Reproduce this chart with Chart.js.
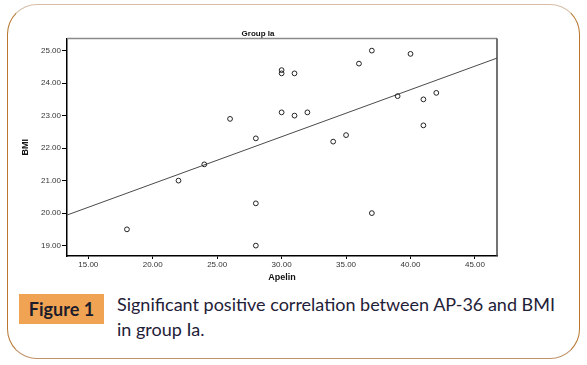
<!DOCTYPE html>
<html>
<head>
<meta charset="utf-8">
<script src="https://cdn.jsdelivr.net/npm/chart.js@4.4.0/dist/chart.umd.min.js"></script>
<style>
  body { margin: 0; background: #fff; width: 587px; height: 365px; position: relative; overflow: hidden; }
  #frame {
    position: absolute; left: 7px; top: 4px; width: 571px; height: 353px;
    border: 1.5px solid #b8762f; border-top-color: #d6bea6; border-bottom-color: #c09066;
    border-radius: 30px;
  }
  #myChart { position: absolute; left: 15px; top: 22px; }
  #fig {
    position: absolute; left: 19px; top: 294px; width: 85px; height: 30px;
    background: #f0a453; color: #1c1c2c; font: bold 18px Lato, "Open Sans", sans-serif;
    line-height: 30px; text-align: center;
  }
  #cap {
    position: absolute; left: 117px; top: 292px; white-space: nowrap;
    color: #1f2138; font: 18px Lato, "Open Sans", sans-serif; line-height: 25px;
  }
</style>
</head>
<body>
<div id="frame"></div>
<canvas id="myChart" width="487" height="270"></canvas>
<div id="fig">Figure 1</div>
<div id="cap">Significant positive correlation between AP-36 and BMI<br>in group Ia.</div>
<script>
// data
var apelin = [18, 22, 24, 26, 28, 28, 28, 30, 30, 30, 31, 31, 32, 34, 35, 36, 37, 37, 39, 40, 41, 41, 42];
var bmi = [19.5, 21.0, 21.5, 22.9, 22.3, 20.3, 19.0, 24.4, 24.3, 23.1, 24.3, 23.0, 23.1, 22.2, 22.4, 24.6, 25.0, 20.0, 23.6, 24.9, 23.5, 22.7, 23.7];
// fit line end points
var fitX = [13.35, 46.71];
var fitY = [19.94, 24.77];
// tick labels
var xTicks = [15, 20, 25, 30, 35, 40, 45];
var yTicks = [19, 20, 21, 22, 23, 24, 25];

var points = apelin.map(function (x, i) { return { x: x, y: bmi[i] }; });
var fit = fitX.map(function (x, i) { return { x: x, y: fitY[i] }; });

// top and right frame lines of the plot box
var boxLines = {
    id: 'boxLines',
    afterDraw: function (chart) {
        var a = chart.chartArea, c = chart.ctx;
        c.save();
        c.lineWidth = 1.5;
        c.strokeStyle = '#8a8a8a';
        c.beginPath(); c.moveTo(a.left, a.top); c.lineTo(a.right, a.top); c.stroke();
        c.strokeStyle = '#444';
        c.beginPath(); c.moveTo(a.right, a.top); c.lineTo(a.right, a.bottom); c.stroke();
        c.restore();
    }
};

var tickFont = { family: 'Liberation Sans, Arial', size: 8 };

var ctx = document.getElementById('myChart').getContext('2d');
var chart = new Chart(ctx, {
    type: 'scatter',
    data: {
        datasets: [
            {
                label: 'BMI',
                data: points,
                pointStyle: 'circle',
                pointRadius: 2.4,
                borderWidth: 1,
                borderColor: '#222',
                backgroundColor: 'rgba(0,0,0,0)'
            },
            {
                type: 'line',
                label: 'fit',
                data: fit,
                borderColor: '#4a4a4a',
                borderWidth: 1,
                pointRadius: 0,
                fill: false
            }
        ]
    },
    plugins: [boxLines],
    options: {
        responsive: false,
        animation: false,
        layout: { padding: { right: 1 } },
        plugins: {
            legend: { display: false },
            tooltip: { enabled: false },
            title: {
                display: true,
                text: 'Group Ia',
                color: '#111',
                font: { family: 'Liberation Sans, Arial', size: 8, weight: 'bold' },
                padding: { top: 7, bottom: 0 }
            }
        },
        scales: {
            x: {
                type: 'linear',
                min: 13.35,
                max: 46.71,
                afterBuildTicks: function (s) { s.ticks = xTicks.map(function (v) { return { value: v }; }); },
                afterFit: function (s) { s.height = 36; },
                border: { display: true, color: '#000', width: 1.5 },
                grid: { drawOnChartArea: false, drawTicks: true, tickLength: 3, color: '#000' },
                ticks: {
                    color: '#333', font: tickFont, padding: 1, maxRotation: 0,
                    callback: function (v) { return v.toFixed(2); }
                },
                title: {
                    display: true, text: 'Apelin', color: '#111',
                    font: { family: 'Liberation Sans, Arial', size: 9, weight: 'bold' },
                    padding: { top: 0, bottom: 9 }
                }
            },
            y: {
                type: 'linear',
                min: 18.68,
                max: 25.37,
                afterBuildTicks: function (s) { s.ticks = yTicks.map(function (v) { return { value: v }; }); },
                afterFit: function (s) { s.width = 52; },
                border: { display: true, color: '#000', width: 1.5 },
                grid: { drawOnChartArea: false, drawTicks: true, tickLength: 5, color: '#000' },
                ticks: {
                    color: '#333', font: tickFont, padding: 1,
                    callback: function (v) { return v.toFixed(2); }
                },
                title: {
                    display: true, text: 'BMI', color: '#111',
                    font: { family: 'Liberation Sans, Arial', size: 9, weight: 'bold' },
                    padding: { top: 5, bottom: 0 }
                }
            }
        }
    }
});
</script>
</body>
</html>
